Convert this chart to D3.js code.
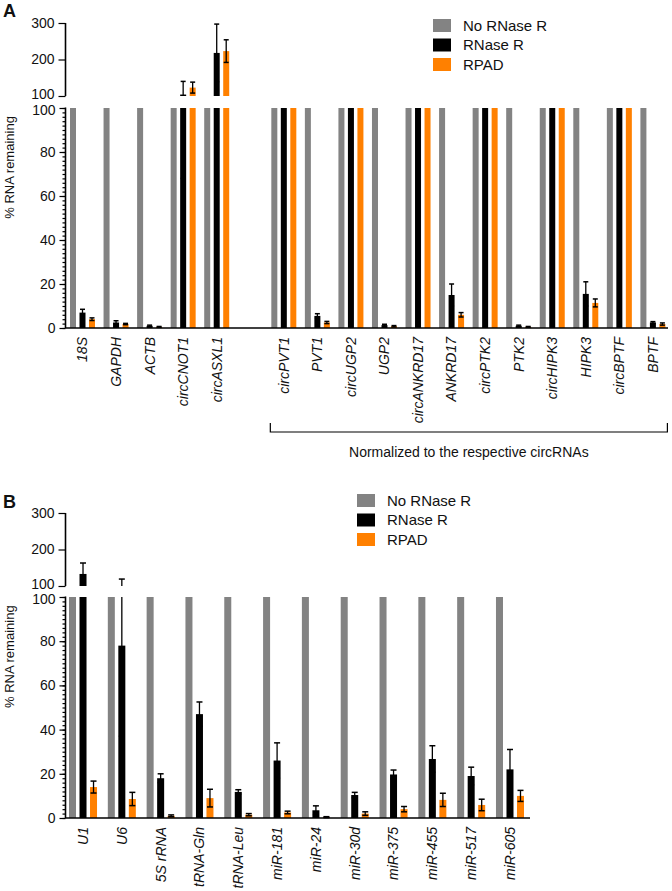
<!DOCTYPE html>
<html><head><meta charset="utf-8">
<script src="https://cdn.jsdelivr.net/npm/d3@7"></script>
<style>
html,body{margin:0;padding:0;background:#fff;}
text{font-family:"Liberation Sans",Arial,sans-serif;fill:#111;}
</style></head>
<body><svg id="chart" width="672" height="891"></svg>
<script>
// ---------- DATA ----------
const seriesNames = ["No RNase R", "RNase R", "RPAD"];
const seriesColors = ["#838383", "#000000", "#ff8000"];

const categoriesA = ["18S","GAPDH","ACTB","circCNOT1","circASXL1","","circPVT1","PVT1","circUGP2","UGP2","circANKRD17","ANKRD17","circPTK2","PTK2","circHIPK3","HIPK3","circBPTF","BPTF"];
const noRNaseA  = [100,100,100,100,100,null,100,100,100,100,100,100,100,100,100,100,100,100];
const rnaseRA   = [7,2.5,1,104,218,null,100,5.5,100,1.3,100,15,100,1,100,15.5,100,2.5];
const rnaseRErrA= [1.5,0.8,0.3,36,79,null,0,1,0,0.4,0,5,0,0.3,0,5.5,0,0.4];
const rpadA     = [4,1.8,0.5,123,223,null,100,2.5,100,0.8,100,6,100,0.5,100,11.4,100,1.8];
const rpadErrA  = [0.6,0.3,0.2,15,31,null,0,0.5,0,0.3,0,1,0,0.2,0,1.8,0,0.5];

const categoriesB = ["U1","U6","5S rRNA","tRNA-Gln","tRNA-Leu","miR-181","miR-24","miR-30d","miR-375","miR-455","miR-517","miR-605"];
const noRNaseB  = [100,100,100,100,100,100,100,100,100,100,100,100];
const rnaseRB   = [133,78,18,47,11.8,26,3.5,10.4,19.7,26.7,19,22];
const rnaseRErrB= [30,41,2,5.5,1,8,2,1.2,2,6,4,9];
const rpadB     = [14,8.6,1,9,1.5,2.5,0.4,2,4,8.2,5.9,10];
const rpadErrB  = [2.7,3,0.4,4,0.5,0.6,0.2,0.8,1.2,3,2.6,2.5];

const lowTicks = [0,20,40,60,80,100];
const topTicks = [100,200,300];
const yAxisTitle = "% RNA remaining";
const bracketText = "Normalized to the respective circRNAs";

// ---------- DRAW ----------
const svg = d3.select("#chart");

function panel(cfg){
  const g = svg.append("g");
  const n = cfg.categories.length;
  const x = d3.scaleBand().domain(d3.range(n)).range(cfg.xRange)
              .paddingInner(cfg.padIn).paddingOuter(0);
  const sub = d3.scaleBand().domain([0,1,2]).range([0, x.bandwidth()]).paddingInner(cfg.subPad);
  const yLow = d3.scaleLinear().domain([0,100]).range(cfg.lowRange);
  const yTop = d3.scaleLinear().domain([100,300]).range(cfg.topRange);

  const vals = [cfg.s0, cfg.s1, cfg.s2];
  const errs = [null, cfg.e1, cfg.e2];

  // bars
  for (let i=0;i<n;i++){
    for (let s=0;s<3;s++){
      const v = vals[s][i];
      if (v==null) continue;
      const bx = x(i)+sub(s), bw = sub.bandwidth();
      const vl = Math.min(v,100);
      g.append("rect").attr("x",bx).attr("width",bw)
        .attr("y",yLow(vl)).attr("height",yLow(0)-yLow(vl))
        .attr("fill",seriesColors[s]);
      if (v>100){
        const vt = Math.min(v,300);
        g.append("rect").attr("x",bx).attr("width",bw)
          .attr("y",yTop(vt)).attr("height",yTop(100)-yTop(vt))
          .attr("fill",seriesColors[s]);
      }
    }
  }
  // error bars
  const cw = cfg.capW;
  for (let i=0;i<n;i++){
    for (let s=1;s<3;s++){
      const v = vals[s][i], e = errs[s][i];
      if (v==null || !e) continue;
      const cx = x(i)+sub(s)+sub.bandwidth()/2;
      const lo = Math.max(0, v-e), hi = v+e;
      const segs = [];
      if (lo < 100){
        segs.push({sc:yLow, a:lo, b:Math.min(hi,100), capLo: true, capHi: hi<=100});
      }
      if (hi > 100){
        segs.push({sc:yTop, a:Math.max(lo,100), b:Math.min(hi,300), capLo: lo>100, capHi: hi<=300});
      }
      segs.forEach(sg=>{
        g.append("line").attr("x1",cx).attr("x2",cx)
          .attr("y1",sg.sc(sg.a)).attr("y2",sg.sc(sg.b))
          .attr("stroke","#000").attr("stroke-width",1.3);
        if (sg.capLo) g.append("line").attr("x1",cx-cw/2).attr("x2",cx+cw/2)
          .attr("y1",sg.sc(sg.a)).attr("y2",sg.sc(sg.a)).attr("stroke","#000").attr("stroke-width",1.5);
        if (sg.capHi) g.append("line").attr("x1",cx-cw/2).attr("x2",cx+cw/2)
          .attr("y1",sg.sc(sg.b)).attr("y2",sg.sc(sg.b)).attr("stroke","#000").attr("stroke-width",1.5);
      });
    }
  }

  // y axes
  const ax = cfg.axisX;
  const aLow = g.append("g").attr("transform",`translate(${ax},0)`)
    .call(d3.axisLeft(yLow).tickValues(lowTicks).tickSize(6).tickPadding(4).tickFormat(d3.format("d")));
  const aMinor = g.append("g").attr("transform",`translate(${ax},0)`)
    .call(d3.axisLeft(yLow).tickValues(d3.range(0,101,2)).tickSize(3).tickFormat(""));
  const aTop = g.append("g").attr("transform",`translate(${ax},0)`)
    .call(d3.axisLeft(yTop).tickValues(topTicks).tickSize(7).tickPadding(4).tickFormat(d3.format("d")));
  [aLow,aMinor,aTop].forEach(a=>{
    a.select(".domain").remove();
    a.selectAll(".tick line").attr("stroke","#000").attr("stroke-width",1.2);
    a.selectAll(".tick text").style("font-size","14px").attr("fill","#111");
  });
  // separate the two stacked "100" labels slightly
  aTop.selectAll(".tick text").filter(d=>d===100).attr("dy","0.2em");
  aLow.selectAll(".tick text").filter(d=>d===100).attr("dy","0.45em");
  // axis lines
  g.append("line").attr("x1",ax).attr("x2",ax).attr("y1",yLow(0)).attr("y2",yLow(100)-0.5)
    .attr("stroke","#000").attr("stroke-width",1.6);
  g.append("line").attr("x1",ax).attr("x2",ax).attr("y1",yTop(100)).attr("y2",yTop(300))
    .attr("stroke","#000").attr("stroke-width",1.6);
  // x axis baseline
  g.append("line").attr("x1",ax).attr("x2",cfg.xEnd).attr("y1",yLow(0)).attr("y2",yLow(0))
    .attr("stroke","#000").attr("stroke-width",1.6);

  // y title
  g.append("text").attr("transform",`translate(${cfg.titleX},${yLow(73)}) rotate(-90)`)
    .attr("text-anchor","middle").style("font-size","13px").text(yAxisTitle);

  // x labels
  for (let i=0;i<n;i++){
    if (!cfg.categories[i]) continue;
    const cx = x(i)+x.bandwidth()/2;
    g.append("text").attr("transform",`translate(${cx},${yLow(0)+9}) rotate(-90)`)
      .attr("text-anchor","end").attr("dy","0.35em")
      .style("font-size",cfg.labelSize).style("font-style","italic")
      .text(cfg.categories[i]);
  }

  // panel letter
  g.append("text").attr("x",3).attr("y",cfg.letterY).style("font-size","18px")
    .style("font-weight","bold").text(cfg.letter);

  // legend
  seriesNames.forEach((nm,k)=>{
    g.append("rect").attr("x",cfg.legX).attr("y",cfg.legY+k*19.5).attr("width",18).attr("height",13)
      .attr("fill",seriesColors[k]);
    g.append("text").attr("x",cfg.legX+30).attr("y",cfg.legY+k*19.5+6.5).attr("dy","0.35em")
      .style("font-size","15px").text(nm);
  });
  return {x, yLow};
}

const pA = panel({
  categories: categoriesA, s0: noRNaseA, s1: rnaseRA, s2: rpadA, e1: rnaseRErrA, e2: rpadErrA,
  xRange: [70, 665.4], padIn: 0.255, subPad: 0.368, capW: 5,
  lowRange: [328,108], topRange: [96,23], axisX: 65.5, xEnd: 668,
  titleX: 14, labelSize: "14px", letter: "A", letterY: 17, legX: 433, legY: 19
});

// bracket for panel A
(function(){
  const x = pA.x, y = 432;
  const x1 = x(6)-1, x2 = x(17)+x.bandwidth()+2;
  svg.append("path").attr("d",`M${x1},${y-9}V${y}H${x2}V${y-9}`)
    .attr("fill","none").attr("stroke","#000").attr("stroke-width",1.2);
  svg.append("text").attr("x",(x1+x2)/2).attr("y",452).attr("dy","0.35em")
    .attr("text-anchor","middle").style("font-size","14px").text(bracketText);
})();

panel({
  categories: categoriesB, s0: noRNaseB, s1: rnaseRB, s2: rpadB, e1: rnaseRErrB, e2: rpadErrB,
  xRange: [69, 524], padIn: 0.278, subPad: 0.333, capW: 6,
  lowRange: [818,597], topRange: [586,513], axisX: 65.5, xEnd: 530,
  titleX: 14, labelSize: "14px", letter: "B", letterY: 508, legX: 357, legY: 494
});
</script></body></html>
